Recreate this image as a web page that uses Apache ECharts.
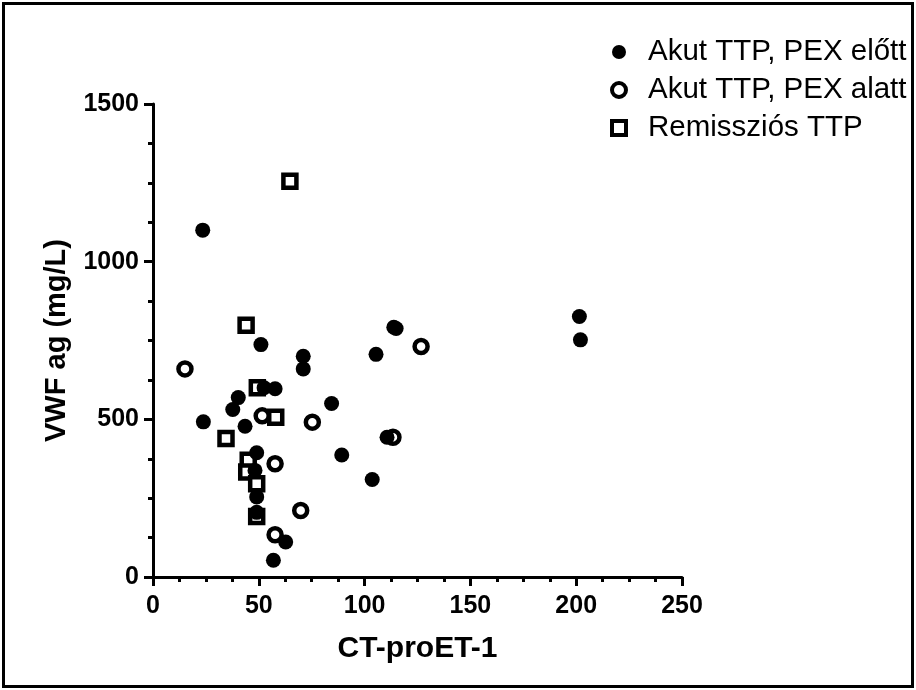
<!DOCTYPE html>
<html>
<head>
<meta charset="utf-8">
<script src="https://cdn.jsdelivr.net/npm/echarts@6/dist/echarts.min.js"></script>
<style>
html,body{margin:0;padding:0;background:#fff;}
#chart{width:916px;height:690px;}
</style>
</head>
<body>
<div id="chart"></div>
<script>
var seriesNames = ['Akut TTP, PEX előtt', 'Akut TTP, PEX alatt', 'Remissziós TTP'];
var xTitle = 'CT-proET-1';
var yTitle = 'VWF ag (mg/L)';

var beforePEX = [
  [23.5,1100],[23.8,492],[51,737],[71,700],[71,660],[40.3,569],[37.7,531],
  [43.5,478],[52.5,600],[57.7,597],[84.4,550],[105.4,706],[113.8,792],[114.9,788],
  [89.2,387],[103.6,309],[110.6,443],[201.5,826],[202,752],[49,394],[48.2,338],
  [49,254],[49,205],[62.7,111],[56.9,53]
];
var duringPEX = [
  [15.1,660],[51.6,511],[75.3,491],[57.7,359],[69.8,211],[57.7,134],[113.4,443],[126.7,731]
];
var remission = [
  [64.7,1255],[44,798],[49.3,600],[58,507],[34.5,439],[45,370],[44.3,333],[49,296],[49,192]
];

var chart = echarts.init(document.getElementById('chart'), null, {renderer:'canvas'});
var axisCommon = {
  axisLine:{show:true, onZero:false, lineStyle:{color:'#000', width:3}},
  axisTick:{show:true, inside:false, length:9, lineStyle:{color:'#000', width:3}},
  minorTick:{show:true, splitNumber:4, length:5, lineStyle:{color:'#000', width:3}},
  splitLine:{show:false},
  minorSplitLine:{show:false}
};
var labelFont = {fontFamily:'Liberation Sans', fontWeight:'bold', fontSize:25, color:'#000'};
var option = {
  backgroundColor:'#fff',
  animation:false,
  graphic:[{
    type:'rect', shape:{x:3.5, y:3.5, width:909, height:683},
    style:{fill:'none', stroke:'#000', lineWidth:3}, silent:true, z:100
  }],
  grid:{left:153, right:234, top:104, bottom:113, containLabel:false},
  legend:{
    orient:'vertical', left:605, top:32, itemGap:8,
    itemWidth:14, itemHeight:14,
    data:[
      {name:seriesNames[0], itemStyle:{color:'#000', borderWidth:0}},
      {name:seriesNames[1], itemStyle:{color:'#fff', borderColor:'#000', borderWidth:4}},
      {name:seriesNames[2], itemStyle:{color:'#fff', borderColor:'#000', borderWidth:4}}
    ],
    textStyle:{fontFamily:'Liberation Sans', fontSize:29.5, color:'#000', padding:[0,0,0,17]}
  },
  xAxis:Object.assign({
    type:'value', min:0, max:250, interval:50,
    name:xTitle, nameLocation:'middle', nameGap:57,
    nameTextStyle:{fontFamily:'Liberation Sans', fontWeight:'bold', fontSize:30, color:'#000'},
    axisLabel:Object.assign({margin:17, formatter:function(v){return String(v);}}, labelFont)
  }, axisCommon),
  yAxis:Object.assign({
    type:'value', min:0, max:1500, interval:500,
    name:yTitle, nameLocation:'middle', nameGap:82, nameRotate:90,
    nameTextStyle:{fontFamily:'Liberation Sans', fontWeight:'bold', fontSize:29, color:'#000'},
    axisLabel:Object.assign({margin:14, formatter:function(v){return String(v);}}, labelFont)
  }, axisCommon),
  series:[
    {name:seriesNames[2], type:'scatter', data:remission, symbol:'rect', symbolSize:13, z:2,
     itemStyle:{color:'#fff', borderColor:'#000', borderWidth:4.5, opacity:1}},
    {name:seriesNames[1], type:'scatter', data:duringPEX, symbol:'circle', symbolSize:13, z:3,
     itemStyle:{color:'#fff', borderColor:'#000', borderWidth:4.5, opacity:1}},
    {name:seriesNames[0], type:'scatter', data:beforePEX, symbol:'circle', symbolSize:15, z:4,
     itemStyle:{color:'#000', opacity:1}}
  ]
};
chart.setOption(option);
</script>
</body>
</html>
